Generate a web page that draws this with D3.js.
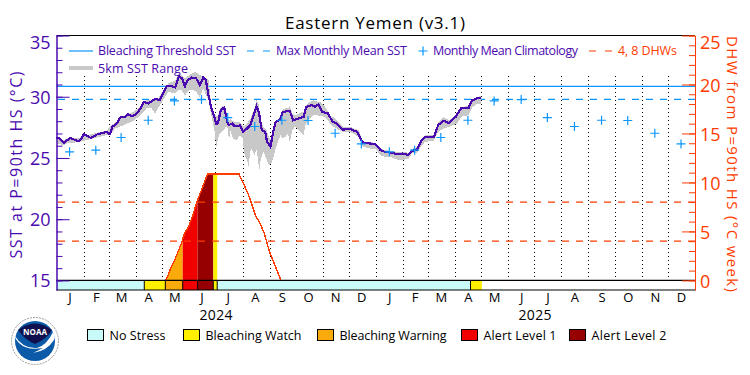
<!DOCTYPE html>
<html>
<head>
<meta charset="utf-8">
<script src="https://cdnjs.cloudflare.com/ajax/libs/d3/7.8.5/d3.min.js"></script>
<style>
  html, body { margin: 0; padding: 0; background: #fff; }
  svg { display: block; }
  text { font-family: "Open Sans", "DejaVu Sans", sans-serif; font-weight: 400; }
</style>
</head>
<body>
<svg id="chart"></svg>
<script>
// days counted from 2024-01-01
const monthStarts = [31,60,91,121,152,182,213,244,274,305,335,366,397,425,456,486,517,547,578,609,639,670,700];
const monthMids = [15,45,74,105,135,166,196,227,258,288,319,349,381,410,440,471,501,532,562,593,624,654,685,715];
const monthLabels = ['J','F','M','A','M','J','J','A','S','O','N','D','J','F','M','A','M','J','J','A','S','O','N','D'];

const sstDays = [0,4,9,12,16,20,25,29,31,35,39,43,47,52,57,61,64,69,73,78,82,87,92,96,100,105,109,113,118,122,126,132,136,140,144,147,150,155,160,164,168,171,174,177,180,183,185,188,192,195,197,201,204,210,214,218,222,225,229,232,235,239,241,245,248,251,256,259,267,271,277,283,286,292,296,300,304,311,316,321,328,336,344,347,351,359,365,371,376,384,390,396,403,407,413,417,422,432,437,443,449,457,463,472,476,481,486];
const sstValues = [26.67,26.56,26.23,26.45,26.64,26.51,26.37,26.59,26.97,26.83,26.64,26.78,26.94,27.02,27.13,26.94,27.54,27.81,28.30,28.36,28.57,28.41,28.63,29.04,29.58,29.44,29.64,29.83,29.72,30.26,30.86,30.86,30.75,31.68,31.49,30.86,31.35,31.57,31.49,30.94,31.57,31.35,30.12,29.17,28.49,27.76,27.87,28.90,29.12,28.08,27.68,27.81,27.59,27.65,27.13,27.40,27.68,28.36,29.23,28.63,27.27,27.13,26.32,25.91,27.13,27.95,28.14,28.76,28.85,28.08,28.22,28.36,29.17,29.31,29.17,29.39,28.76,28.63,27.95,27.81,27.32,27.38,27.13,26.72,26.23,26.18,26.12,25.64,25.50,25.42,25.31,25.36,25.25,25.58,25.69,26.32,26.72,26.72,27.68,28.03,27.87,28.36,29.04,29.12,29.72,29.85,29.93];

const rangeDays = [0,8,12,27,42,57,63,67,77,88,96,103,109,113,117,122,128,136,140,143,147,153,159,164,168,174,178,181,183,185,187,191,194,196,197.5,199,202,206,210,213,215,218,220,221.5,223,226.5,229,231,232,234,237,241,243,246,249,252,255,256.5,259,262,265,267,270,273,277,283,285,288,294,304,309,313,317,328,336,346,351,359,365,371,376,384,390,397,403,407,413,417,422,432,437,443,449,459,463,472,476,481,486];
const rangeLow = [26.18,26.04,26.18,26.32,26.59,26.86,27.0,27.40,27.68,28.03,28.49,29.04,29.04,28.63,29.17,29.72,30.40,30.26,30.59,30.53,30.12,30.59,30.48,29.99,30.67,29.72,28.22,27.14,25.91,26.59,27.0,27.27,27.55,27.41,26.37,27.27,26.59,26.46,26.86,26.59,25.37,24.82,24.28,25.37,25.78,25.23,25.64,24.82,23.82,24.96,25.5,24.82,24.42,24.55,25.23,26.05,26.59,26.86,26.59,26.73,27.0,26.27,27.27,27.55,27.27,26.86,27.68,28.09,28.5,28.44,28.22,27.82,27.54,27.13,27.13,26.72,25.91,25.77,25.77,25.23,25.09,25.04,24.87,24.82,24.95,25.36,25.42,25.91,26.32,26.40,27.13,27.40,27.54,27.81,28.36,28.49,29.17,29.39,29.44];
const rangeHigh = [26.72,26.45,26.59,26.67,26.99,27.21,27.68,27.87,28.41,28.76,29.17,29.77,29.77,29.93,29.93,30.48,31.08,31.35,31.89,31.76,31.49,31.84,32.03,31.76,31.68,31.40,28.77,28.5,28.45,28.4,29.0,29.3,29.0,28.3,28.1,28.2,28.0,27.9,27.9,27.7,27.6,27.8,28.0,28.1,28.4,29.0,29.7,29.5,29.1,28.0,27.5,27.2,26.7,26.5,27.3,27.9,28.3,28.4,29.0,29.05,29.05,29.25,28.6,28.5,28.6,28.8,29.2,29.5,29.7,29.5,29.0,28.4,28.36,27.54,27.54,27.27,26.32,26.32,26.23,25.77,25.64,25.58,25.50,25.50,25.42,25.74,25.91,26.45,26.86,26.86,27.87,28.36,28.08,28.49,29.17,29.23,29.77,29.99,30.04];

const climDays = monthMids;
const climValues = [25.50,25.64,26.67,28.08,29.66,29.77,28.30,27.57,28.08,28.06,27.02,26.15,25.50,25.64,26.67,28.08,29.66,29.77,28.30,27.57,28.08,28.06,27.02,26.15];

const dhwDays = [125,128,131,135,139,143,147,150,153,156,159,162,165,168,171,173,209,212,215,219,222,225,228,232,235,238,241,244,248,252,257];
const dhwValues = [0,0.6,1.3,2.0,2.9,3.8,4.9,5.3,5.9,6.6,7.5,8.3,9.0,9.7,10.4,10.85,10.85,10.3,9.7,8.9,8.2,7.4,6.6,6.0,5.4,4.8,3.8,2.9,2.0,1.1,0];

const bleachingThreshold = 30.84;
const maxMonthlyMean = 29.78;
const dhwLevels = [4, 8];

// stress bar pieces: start day, end day, colour index
const stressStarts = [0,100.5,124.6,144.5,161.6,179.5,184,474];
const stressEnds = [100.5,124.6,144.5,161.6,179.5,184,474,487];
const stressLevels = [0,1,2,3,4,1,0,1];

const stressNames = ['No Stress','Bleaching Watch','Bleaching Warning','Alert Level 1','Alert Level 2'];
const stressColors = ['#c8fafa','#fff000','#faaa0a','#f00000','#960000'];

const PURPLE = '#4b0aaf';
const ORANGE = '#ff3c00';
const BLUE = '#0a96ff';

const svgWidth = 750;
const svgHeight = 375;
const margin = { top: 35.5, left: 56.5, right: 55, bottom: 85 };
const barTop = 280.4;

const svg = d3.select('#chart')
  .attr('width', svgWidth)
  .attr('height', svgHeight);

const x = d3.scaleLinear().domain([0, 731]).range([margin.left, svgWidth - margin.right]);
const ySst = d3.scaleLinear().domain([14.22, 35]).range([svgHeight - margin.bottom, margin.top]);
const yDhw = d3.scaleLinear().domain([-0.98, 25]).range([svgHeight - margin.bottom, margin.top]);

function label(px, py, str, color, size, len, anchor) {
  const t = svg.append('text')
    .attr('x', px)
    .attr('y', py)
    .attr('fill', color)
    .attr('font-size', size)
    .attr('text-anchor', anchor || 'start')
    .text(str);
  if (len) t.attr('textLength', len).attr('lengthAdjust', 'spacing');
  return t;
}

// month grid
svg.append('g').selectAll('line')
  .data(monthStarts)
  .enter()
  .append('line')
  .attr('x1', d => Math.round(x(d)) + 0.5)
  .attr('x2', d => Math.round(x(d)) + 0.5)
  .attr('y1', 76)
  .attr('y2', barTop)
  .attr('stroke', '#000')
  .attr('stroke-dasharray', '1,3')
  .attr('shape-rendering', 'crispEdges');

// DHW filled by stress level
const dhwPoints = dhwDays.map((d, i) => ({ day: d, value: dhwValues[i] }));
const dhwArea = d3.area()
  .x(d => x(d.day))
  .y0(yDhw(0))
  .y1(d => yDhw(d.value));

const defs = svg.append('defs');
stressStarts.forEach((start, i) => {
  if (stressLevels[i] === 0 || start > 200) return;
  if (start < 124) return;
  defs.append('clipPath')
    .attr('id', `band${i}`)
    .append('rect')
    .attr('x', x(start))
    .attr('width', x(stressEnds[i]) - x(start))
    .attr('y', margin.top)
    .attr('height', barTop - margin.top);
  svg.append('path')
    .attr('d', dhwArea(dhwPoints))
    .attr('fill', stressColors[stressLevels[i]])
    .attr('clip-path', `url(#band${i})`);
});

// threshold lines
svg.append('line')
  .attr('x1', margin.left).attr('x2', svgWidth - margin.right)
  .attr('y1', ySst(bleachingThreshold)).attr('y2', ySst(bleachingThreshold))
  .attr('stroke', BLUE).attr('stroke-width', 1.2);
svg.append('line')
  .attr('x1', 58).attr('x2', svgWidth - margin.right)
  .attr('y1', ySst(maxMonthlyMean)).attr('y2', ySst(maxMonthlyMean))
  .attr('stroke', BLUE).attr('stroke-width', 1.2).attr('stroke-dasharray', '7,7');

svg.append('g').selectAll('line')
  .data(dhwLevels)
  .enter()
  .append('line')
  .attr('x1', 58).attr('x2', svgWidth - margin.right)
  .attr('y1', d => yDhw(d)).attr('y2', d => yDhw(d))
  .attr('stroke', ORANGE).attr('stroke-width', 1.2).attr('stroke-dasharray', '7,7');

// 5km range
const rangeArea = d3.area()
  .x(d => x(d.day))
  .y0(d => ySst(d.low))
  .y1(d => ySst(d.high));
svg.append('path')
  .attr('d', rangeArea(rangeDays.map((d, i) => ({ day: d, low: rangeLow[i], high: rangeHigh[i] }))))
  .attr('fill', '#c8c8c8')
  .attr('shape-rendering', 'crispEdges');

// SST
const sstLine = d3.line()
  .x(d => x(d.day))
  .y(d => ySst(d.value));
svg.append('path')
  .attr('d', sstLine(sstDays.map((d, i) => ({ day: d, value: sstValues[i] }))))
  .attr('fill', 'none')
  .attr('stroke', PURPLE)
  .attr('stroke-width', 2.2)
  .attr('shape-rendering', 'crispEdges');

// DHW line
svg.append('path')
  .attr('d', sstLine.y(d => yDhw(d.value))(dhwPoints))
  .attr('fill', 'none')
  .attr('stroke', ORANGE)
  .attr('stroke-width', 1.4)
  .attr('shape-rendering', 'crispEdges');

// monthly climatology
const crossSize = 4.5;
svg.append('g').selectAll('path')
  .data(climDays.map((d, i) => ({ day: d, value: climValues[i] })))
  .enter()
  .append('path')
  .attr('d', d => `M${x(d.day) - crossSize},${ySst(d.value)}H${x(d.day) + crossSize}M${x(d.day)},${ySst(d.value) - crossSize}V${ySst(d.value) + crossSize}`)
  .attr('stroke', BLUE)
  .attr('stroke-width', 1.2)
  .attr('fill', 'none');

// stress bar
svg.append('g').selectAll('rect')
  .data(stressStarts.map((d, i) => ({ start: d, end: stressEnds[i], level: stressLevels[i] })))
  .enter()
  .append('rect')
  .attr('x', d => x(d.start))
  .attr('width', d => x(d.end) - x(d.start))
  .attr('y', barTop)
  .attr('height', svgHeight - margin.bottom - barTop)
  .attr('fill', d => stressColors[d.level]);

svg.append('g').selectAll('line')
  .data(stressStarts.slice(1))
  .enter()
  .append('line')
  .attr('x1', d => x(d)).attr('x2', d => x(d))
  .attr('y1', barTop).attr('y2', svgHeight - margin.bottom)
  .attr('stroke', '#000');

// frame
[margin.top, barTop, svgHeight - margin.bottom].forEach(py => {
  svg.append('line')
    .attr('x1', margin.left).attr('x2', svgWidth - margin.right)
    .attr('y1', py).attr('y2', py)
    .attr('stroke', '#000').attr('stroke-width', 1.2);
});

// axes
function styleAxis(g, color) {
  g.selectAll('path, line').attr('stroke', color);
  g.selectAll('text')
    .attr('fill', color)
    .attr('font-size', 18)
    .attr('font-family', '"Open Sans", "DejaVu Sans", sans-serif');
}

const leftMinor = svg.append('g')
  .attr('transform', `translate(${margin.left},0)`)
  .call(d3.axisLeft(ySst).tickValues(d3.range(15, 36)).tickSize(-6).tickSizeOuter(0).tickFormat(''));
styleAxis(leftMinor, PURPLE);

const leftMajor = svg.append('g')
  .attr('transform', `translate(${margin.left},0)`)
  .call(d3.axisLeft(ySst).tickValues([15, 20, 25, 30, 35]).tickSize(-13).tickSizeOuter(0).tickPadding(6));
styleAxis(leftMajor, PURPLE);
leftMajor.selectAll('text').attr('dy', d => d === 35 ? '0.72em' : '0.36em');

const rightMinor = svg.append('g')
  .attr('transform', `translate(${svgWidth - margin.right},0)`)
  .call(d3.axisRight(yDhw).tickValues(d3.range(0, 26)).tickSize(-6).tickSizeOuter(0).tickFormat(''));
styleAxis(rightMinor, ORANGE);

const rightMajor = svg.append('g')
  .attr('transform', `translate(${svgWidth - margin.right},0)`)
  .call(d3.axisRight(yDhw).tickValues([0, 5, 10, 15, 20, 25]).tickSize(-13).tickSizeOuter(0).tickPadding(5));
styleAxis(rightMajor, ORANGE);
rightMajor.selectAll('text').attr('dy', d => d === 25 ? '0.72em' : '0.4em');

// month and year labels
const xAxis = svg.append('g')
  .attr('transform', `translate(0,${svgHeight - margin.bottom})`)
  .call(d3.axisBottom(x).tickValues(monthMids).tickSize(0).tickPadding(3)
    .tickFormat((d, i) => monthLabels[i]));
xAxis.select('.domain').remove();
xAxis.selectAll('text')
  .attr('fill', '#000')
  .attr('font-size', 13)
  .attr('font-family', '"Open Sans", "DejaVu Sans", sans-serif');

label(216, 320, '2024', '#000', 14, 33, 'middle');
label(535, 320, '2025', '#000', 14, 33, 'middle');

// titles
label(375, 29, 'Eastern Yemen (v3.1)', '#000', 17, 180, 'middle');
label(0, 0, 'SST at P=90th HS (°C)', PURPLE, 16, 187, 'middle')
  .attr('x', null).attr('y', null)
  .attr('transform', 'translate(22,165) rotate(-90)');
label(0, 0, 'DHW from P=90th HS (°C week)', ORANGE, 15, 256, 'middle')
  .attr('x', null).attr('y', null)
  .attr('transform', 'translate(727,164) rotate(90)');

// top legend
const legendY = 55;
svg.append('line').attr('x1', 69).attr('x2', 93).attr('y1', 51).attr('y2', 51)
  .attr('stroke', BLUE).attr('stroke-width', 1.2);
label(98, legendY, 'Bleaching Threshold SST', PURPLE, 12.5, 138);
svg.append('line').attr('x1', 247).attr('x2', 270).attr('y1', 51).attr('y2', 51)
  .attr('stroke', BLUE).attr('stroke-width', 1.2).attr('stroke-dasharray', '7,9');
label(276, legendY, 'Max Monthly Mean SST', PURPLE, 12.5, 131);
svg.append('path').attr('d', 'M418.5,51H427.5M423,46.5V55.5')
  .attr('stroke', BLUE).attr('stroke-width', 1.2).attr('fill', 'none');
label(433, legendY, 'Monthly Mean Climatology', PURPLE, 12.5, 145);
svg.append('line').attr('x1', 589).attr('x2', 612).attr('y1', 51).attr('y2', 51)
  .attr('stroke', ORANGE).attr('stroke-width', 1.2).attr('stroke-dasharray', '7,9');
label(618, legendY, '4, 8 DHWs', ORANGE, 12.5, 59);
svg.append('rect').attr('x', 69).attr('y', 66).attr('width', 24).attr('height', 4).attr('fill', '#c8c8c8');
label(98, 73, '5km SST Range', PURPLE, 12.5, 90);

// stress legend
const legendBoxX = [87.5, 183.5, 317.5, 461.5, 569.5];
const legendTextLen = [56, 96, 107, 73, 75];
stressNames.forEach((name, i) => {
  svg.append('rect')
    .attr('x', legendBoxX[i]).attr('y', 329.5)
    .attr('width', 16).attr('height', 11)
    .attr('fill', stressColors[i])
    .attr('stroke', '#000');
  label(legendBoxX[i] + 22, 340, name, '#000', 12.5, legendTextLen[i]);
});

// NOAA logo
const logo = svg.append('g').attr('transform', 'translate(35,341)');
logo.append('circle').attr('r', 23.5).attr('fill', '#fff').attr('stroke', '#999').attr('stroke-width', 1).attr('stroke-dasharray', '2,1');
logo.append('circle').attr('r', 20).attr('fill', '#0a5aa8');
logo.append('path').attr('d', 'M-17,-11Q0,-24 17,-11Q12,-2 0,3Q-10,-1 -17,-11Z').attr('fill', '#10104e');
logo.append('path').attr('d', 'M-20,-5Q-12,8 2,7Q12,4 18,-9Q21,-5 19,-1Q12,10 -2,12Q4,9 8,7Q-8,10 -16,2Q-20,-2 -20,-5Z').attr('fill', '#fff');
logo.append('text').attr('y', -6).attr('text-anchor', 'middle').attr('fill', '#fff')
  .attr('font-size', 8).style('font-weight', 700).text('NOAA');
</script>
</body>
</html>
